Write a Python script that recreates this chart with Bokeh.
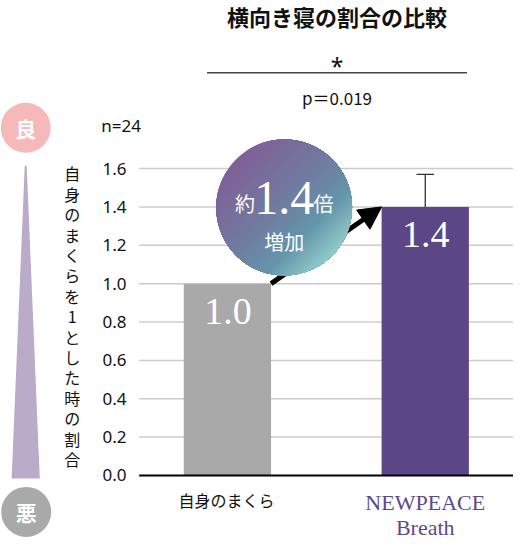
import numpy as np
from bokeh.plotting import figure
from bokeh.models import Range1d
from bokeh.core.properties import value
from bokeh.embed import file_html
from bokeh.resources import INLINE

# ---------------- data ----------------
title_text = "横向き寝の割合の比較"
categories = ["自身のまくら", "NEWPEACE Breath"]
ratios = [1.0, 1.4]
error_top = [None, 1.57]
y_ticks = [0.0, 0.2, 0.4, 0.6, 0.8, 1.0, 1.2, 1.4, 1.6]
tick_labels = ["0.0", "0.2", "0.4", "0.6", "0.8", "1.0", "1.2", "1.4", "1.6"]
sig_mark = "*"
p_text = "p＝0.019"
n_text = "n=24"
y_axis_label = "自身のまくらを1とした時の割合"
good_label = "良"
bad_label = "悪"
badge_prefix = "約"
badge_suffix = "倍"
badge_word = "増加"

# ---------------- layout ----------------
W, H = 513, 542
REF_W, REF_H = 529, 558
Y0 = 489.0          # reference pixel row of value 0
PPU = 197.5         # reference pixels per unit
FS = 0.97           # font scale


def vy(ypx):
    return (Y0 - np.asarray(ypx, dtype=float)) / PPU


def fpx(s):
    return "%dpx" % round(s * FS)


JP = value("Noto Sans CJK JP")
SANS = value("Noto Sans")
SERIF = value("Liberation Serif")

p = figure(width=W, height=H, x_range=Range1d(0, REF_W),
           y_range=Range1d(float(vy(REF_H)), float(vy(0))),
           min_border=0, toolbar_location=None, output_backend="svg",
           x_axis_location=None, y_axis_location=None)
p.grid.visible = False
p.outline_line_color = None
p.background_fill_color = "white"
p.border_fill_color = "white"

bar_x = [234.0, 438.0]
bar_w = 90.0
bar_colors = ["#a9a9a9", "#5b4785"]
grid_x0, grid_x1 = 143.0, 529.0

# grid lines
p.segment(x0=grid_x0, x1=grid_x1, y0=y_ticks[1:], y1=y_ticks[1:],
          line_color="#cccccc", line_width=1.5)

# bars
p.vbar(x=bar_x, width=bar_w, bottom=0, top=ratios, fill_color=bar_colors,
       line_color=None)

# baseline
p.segment(x0=[grid_x0], x1=[grid_x1], y0=[y_ticks[0]], y1=[y_ticks[0]],
          line_color="black", line_width=2)

# error bar
ex, ey0, ey1 = [], [], []
for xc, v, e in zip(bar_x, ratios, error_top):
    if e is not None:
        ex.append(xc); ey0.append(v); ey1.append(e)
p.segment(x0=ex, x1=ex, y0=ey0, y1=ey1, line_color="#333333", line_width=1.3)
p.segment(x0=[x - 9 for x in ex], x1=[x + 9 for x in ex], y0=ey1, y1=ey1,
          line_color="#333333", line_width=1.3)

# tick labels
p.text(x=[130.0] * len(y_ticks), y=y_ticks, text=tick_labels,
       text_font=SANS, text_font_size=fpx(18), text_align="right",
       text_baseline="middle", text_color="#111111")

# arrow from the top of bar 1 to the top of bar 2
sx, sy = bar_x[0] + bar_w / 2, Y0 - ratios[0] * PPU
tx, ty = bar_x[1] - bar_w / 2, Y0 - ratios[1] * PPU
dv = np.array([tx - sx, ty - sy])
L = np.hypot(*dv)
dv = dv / L
pv = np.array([-dv[1], dv[0]])
head_len, head_half = 23.0, 12.0
bx, by = tx - dv[0] * head_len, ty - dv[1] * head_len
p.line(x=[sx, bx + dv[0] * 2], y=vy([sy, by + dv[1] * 2]), line_color="black",
       line_width=5)
p.patch(x=[tx, bx + pv[0] * head_half, bx - pv[0] * head_half],
        y=vy([ty, by + pv[1] * head_half, by - pv[1] * head_half]),
        fill_color="black", line_color="black", line_width=1)

# gradient badge circle
cx, cy, r = 292.5, 213.0, 70.0
d = np.array([1.0, 1.0]) / np.sqrt(2)
nrm = np.array([-d[1], d[0]])
stops_t = [0.0, 0.45, 0.75, 1.0]
stops_c = [(128, 96, 152), (113, 122, 160), (100, 150, 170), (145, 202, 202)]


def grad(t):
    rgb = [int(round(np.interp(t, stops_t, [c[k] for c in stops_c]))) for k in range(3)]
    return "#%02x%02x%02x" % tuple(rgb)


steps = 70
gxs, gys, gcs = [], [], []
for i in range(steps):
    a = -r + 2 * r * i / steps
    th = np.arccos(np.clip(a / r, -1, 1))
    phi = np.linspace(-th, th, 90)
    u = r * np.cos(phi)
    w = r * np.sin(phi)
    px = cx + u * d[0] + w * nrm[0]
    py = cy + u * d[1] + w * nrm[1]
    gxs.append(px.tolist())
    gys.append(vy(py).tolist())
    gcs.append(grad((i + 0.5) / steps))
p.patches(xs=gxs, ys=gys, fill_color=gcs, line_color=None)

fold = ratios[1] / ratios[0]
p.text(x=[252.0], y=vy([209.0]), text=[badge_prefix], text_font=JP,
       text_font_size=fpx(21), text_color="white", text_align="center",
       text_baseline="middle")
p.text(x=[292.5], y=vy([203.5]), text=["%.1f" % fold], text_font=SERIF,
       text_font_size=fpx(50), text_color="white", text_align="center",
       text_baseline="middle")
p.text(x=[333.0], y=vy([209.0]), text=[badge_suffix], text_font=JP,
       text_font_size=fpx(21), text_color="white", text_align="center",
       text_baseline="middle")
p.text(x=[292.5], y=vy([248.0]), text=[badge_word], text_font=JP,
       text_font_size=fpx(21), text_color="white", text_align="center",
       text_baseline="middle")

# value labels inside bars
p.text(x=[b + 0.5 for b in bar_x], y=[v - 28.5 / PPU for v in ratios],
       text=["%.1f" % v for v in ratios], text_font=SERIF,
       text_font_size=fpx(39), text_color="white", text_align="center",
       text_baseline="middle")

# category labels
p.text(x=[bar_x[0] - 1], y=vy([514.0]), text=[categories[0]], text_font=JP,
       text_font_size=fpx(17), text_color="#111111", text_align="center",
       text_baseline="middle")
brand_lines = categories[1].split(" ")
p.text(x=[bar_x[1], bar_x[1]], y=vy([516.5, 542.5]), text=brand_lines,
       text_font=SERIF, text_font_size=fpx(23), text_color="#5b4a8b",
       text_align="center", text_baseline="alphabetic")

# title, significance
p.text(x=[347.0], y=vy([15.5]), text=[title_text], text_font=JP,
       text_font_size=fpx(23), text_font_style="bold", text_color="#111111",
       text_align="center", text_baseline="middle")
p.text(x=[347.0], y=vy([67.0]), text=[sig_mark], text_font=SANS,
       text_font_size=fpx(24), text_color="#111111", text_align="center",
       text_baseline="alphabetic")
p.segment(x0=[213.0], x1=[481.0], y0=vy([74.3]), y1=vy([74.3]),
          line_color="#444444", line_width=1.5)
p.text(x=[347.0], y=vy([100.0]), text=[p_text], text_font=JP,
       text_font_size=fpx(18), text_color="#111111", text_align="center",
       text_baseline="middle")
p.text(x=[104.0], y=vy([128.5]), text=[n_text], text_font=SANS,
       text_font_size=fpx(18), text_color="#111111", text_align="left",
       text_baseline="middle")

# good / bad scale on the left
p.patch(x=[25.0, 27.0, 40.5, 11.5], y=vy([170.0, 170.0, 492.0, 492.0]),
        fill_color="#baabc9", line_color=None)
p.scatter(x=[26.0, 26.5], y=vy([131.0, 526.5]), size=50,
          fill_color=["#f6b9b9", "#a9a9a9"], line_color=None)
p.text(x=[26.0, 26.5], y=vy([131.0, 526.5]), text=[good_label, bad_label],
       text_font=JP, text_font_size=fpx(22), text_font_style="bold",
       text_color="white", text_align="center", text_baseline="middle")

# vertical y-axis label (upright characters)
p.text(x=[74.0], y=vy([325.0]), text=["\n".join(y_axis_label)], text_font=JP,
       text_font_size=fpx(16), text_color="#111111", text_align="center",
       text_baseline="middle", text_line_height=0.85)

open("out.html", "w").write(file_html(p, INLINE))
